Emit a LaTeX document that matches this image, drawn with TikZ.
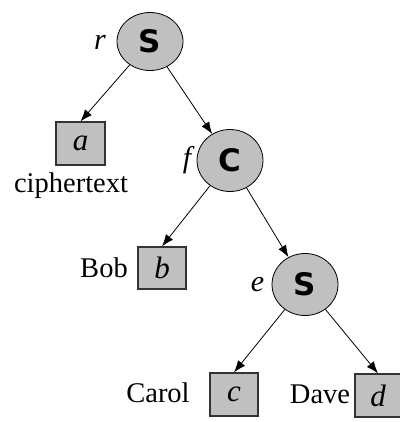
\documentclass[tikz,border=0pt]{standalone}
\usepackage{fontspec}
\setmainfont{Liberation Serif}
\newfontfamily\symfont{DejaVu Sans}
\usetikzlibrary{arrows.meta,shapes.geometric}
\definecolor{nodegray}{RGB}{192,192,192}
\begin{document}
\begin{tikzpicture}[x=1pt,y=-1pt,
  opnode/.style={ellipse,draw=black,line width=0.8pt,fill=nodegray,inner sep=0pt,minimum width=66pt,minimum height=62pt,font=\symfont\bfseries\fontsize{31}{34}\selectfont},
  leaf/.style={rectangle,draw=black!80,line width=1.2pt,fill=nodegray,inner sep=0pt,minimum width=48pt,minimum height=43pt,font=\fontsize{31}{34}\selectfont\itshape},
  lbl/.style={inner sep=0pt,font=\fontsize{28.5}{32}\selectfont},
  ilbl/.style={inner sep=0pt,font=\fontsize{30}{33}\selectfont\itshape},
  edge/.style={draw=black,line width=0.8pt,-{Latex[length=12pt,width=9pt]}}]
\useasboundingbox (0,0) rectangle (399,422);
\node[opnode,minimum height=58pt] (r) at (150,41.5) {S};
\node[opnode] (f) at (230,160.5) {C};
\node[opnode] (e) at (305,284.5) {S};
\node[leaf,minimum width=49pt] (a) at (80.5,143.5) {a};
\node[leaf,minimum height=42pt] (b) at (162,268) {b};
\node[leaf] (c) at (234,394.5) {c};
\node[leaf,minimum width=46pt] (d) at (378,395.5) {d};
\node[ilbl] (rl) at (100,42) {r};
\node[ilbl] (fl) at (187,160) {f};
\node[ilbl] (el) at (257.5,285) {e};
\node[lbl] (ct) at (71,186) {ciphertext};
\node[lbl] (bob) at (104,268) {Bob};
\node[lbl] (carol) at (158,393) {Carol};
\node[lbl] (dave) at (320,394) {Dave};
\draw[edge] (r) -- (a.north);
\draw[edge] (r) -- (f);
\draw[edge] (f) -- (b.north);
\draw[edge] (f) -- (e);
\draw[edge] (e) -- (c.north);
\draw[edge] (e) -- (d.north);
\end{tikzpicture}
\end{document}
